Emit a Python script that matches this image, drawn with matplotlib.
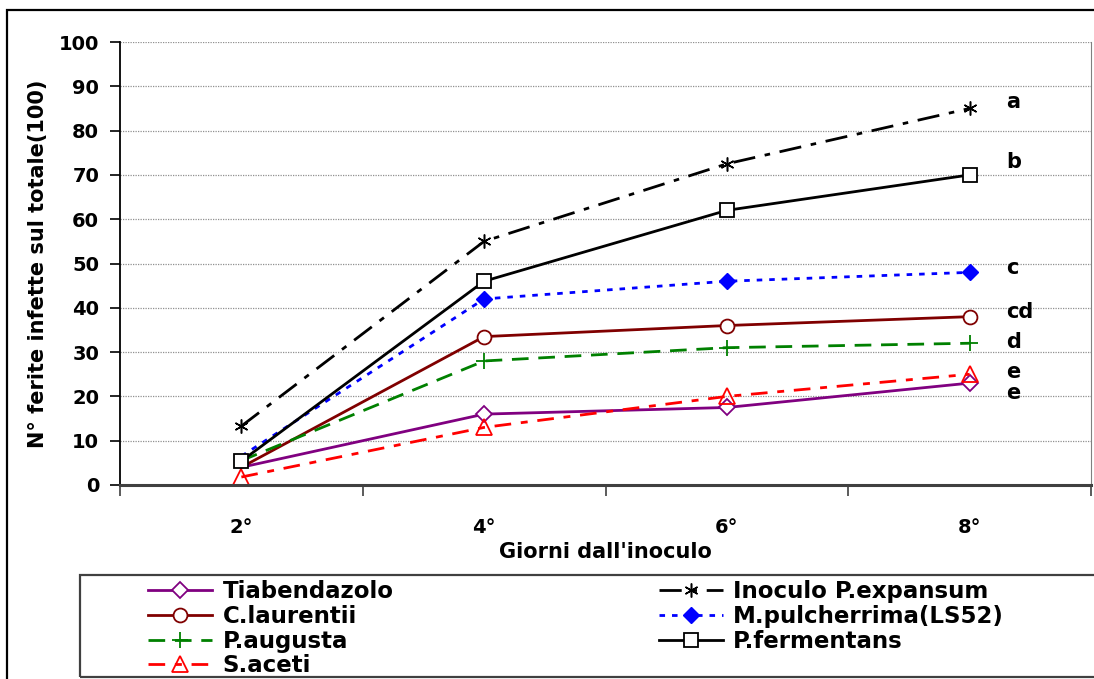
import matplotlib
matplotlib.use("Agg")
import matplotlib.pyplot as plt
from matplotlib.patches import Rectangle

plt.rcParams['font.family'] = ['DejaVu Sans']
plt.rcParams['font.weight'] = 'bold'

days = ["2°", "4°", "6°", "8°"]

tiabendazolo = [4, 16, 17.5, 23]
c_laurentii = [4, 33.5, 36, 38]
p_augusta = [5.5, 28, 31, 32]
s_aceti = [1.8, 13, 20, 25]
inoculo = [13.3, 55, 72.5, 85]
m_pulcherrima = [6.5, 42, 46, 48]
p_fermentans = [5.4, 46, 62, 70]

letters = ["a", "b", "c", "cd", "d", "e", "e"]
letter_y = [86.5, 73, 49, 39, 32.3, 25.5, 20.8]

W, H = 1094, 679
fig = plt.figure(figsize=(W / 100, H / 100), dpi=100)
ax = fig.add_axes([120 / W, 1 - 485 / H, (1091 - 120) / W, (485 - 42) / H])

x = list(range(1, len(days) + 1))
lw = 2.0

ax.plot(x, tiabendazolo, color="#800080", lw=lw, marker="D", ms=8, mfc="white",
        mec="#800080", mew=1.3, markevery=[1, 2, 3], label="Tiabendazolo")
ax.plot(x, c_laurentii, color="#800000", lw=lw, marker="o", ms=10, mfc="white",
        mec="#800000", mew=1.3, markevery=[1, 2, 3], label="C.laurentii")
ax.plot(x, p_augusta, color="#008000", lw=lw, ls=(0, (6, 3.5)), marker="+", ms=11,
        mew=1.3, markevery=[1, 2, 3], label="P.augusta")
ax.plot(x, s_aceti, color="#FF0000", lw=lw, ls=(0, (6, 3.5, 2.5, 3.5)), marker="^", ms=11,
        mfc="none", mec="#FF0000", mew=1.3, label="S.aceti")
ax.plot(x, inoculo, color="black", lw=lw, ls=(0, (8, 3.5, 2, 3.5)), marker=(6, 2, 0), ms=10,
        mew=1.1, label="Inoculo P.expansum")
ax.plot(x, m_pulcherrima, color="#0000FF", lw=lw, ls=(0, (2, 2.5)), marker="D", ms=8,
        mfc="#0000FF", markevery=[1, 2, 3], label="M.pulcherrima(LS52)")
ax.plot(x, p_fermentans, color="black", lw=lw, marker="s", ms=10, mfc="white",
        mec="black", mew=1.3, label="P.fermentans")

for lt, ly in zip(letters, letter_y):
    ax.text(4.15, ly, lt, fontsize=15, fontweight="bold", va="center", ha="left")

ax.set_xlim(0.5, 4.5)
ax.set_ylim(0, 100)
ax.set_yticks(range(0, 101, 10))
ax.set_xticks([i + 0.5 for i in range(0, 5)])
ax.set_xticklabels([])
ax.set_xticks(x, minor=True)
ax.set_xticklabels(days, minor=True)
ax.tick_params(axis="x", which="minor", length=0, pad=24, labelsize=14)
ax.tick_params(axis="x", which="major", length=8, width=1.2, color="#404040")
ax.tick_params(axis="y", length=7, width=1.2, pad=8, labelsize=14)
ax.yaxis.grid(True, color="#909090", ls=(0, (1, 1)), lw=0.9)
ax.set_axisbelow(True)

ax.spines["top"].set_visible(False)
ax.spines["right"].set_color("#808080")
ax.spines["bottom"].set_color("#404040")
ax.spines["bottom"].set_linewidth(2.2)
ax.spines["left"].set_linewidth(1.3)

ax.set_xlabel("Giorni dall'inoculo", fontsize=15, fontweight="bold", labelpad=3)
ax.set_ylabel("N° ferite infette sul totale(100)", fontsize=15, fontweight="bold", labelpad=8)

# outer chart border and legend box
fig.patches.append(Rectangle((7 / W, -0.02), 1.05, 1 - 10 / H + 0.02, transform=fig.transFigure,
                             fill=False, ec="black", lw=1.6))
fig.patches.append(Rectangle((80 / W, 2 / H), 1.05, (677 - 575) / H, transform=fig.transFigure,
                             fill=False, ec="#404040", lw=1.6))

fig.legend(loc="upper left", bbox_to_anchor=(148 / W, 1 - 580 / H), ncol=2, frameon=False,
           prop={"weight": "bold", "size": 16.5}, handlelength=2.8,
           handletextpad=0.45, columnspacing=11.58, labelspacing=0.08, borderpad=0,
           borderaxespad=0)

fig.savefig("out.png", dpi=100)
